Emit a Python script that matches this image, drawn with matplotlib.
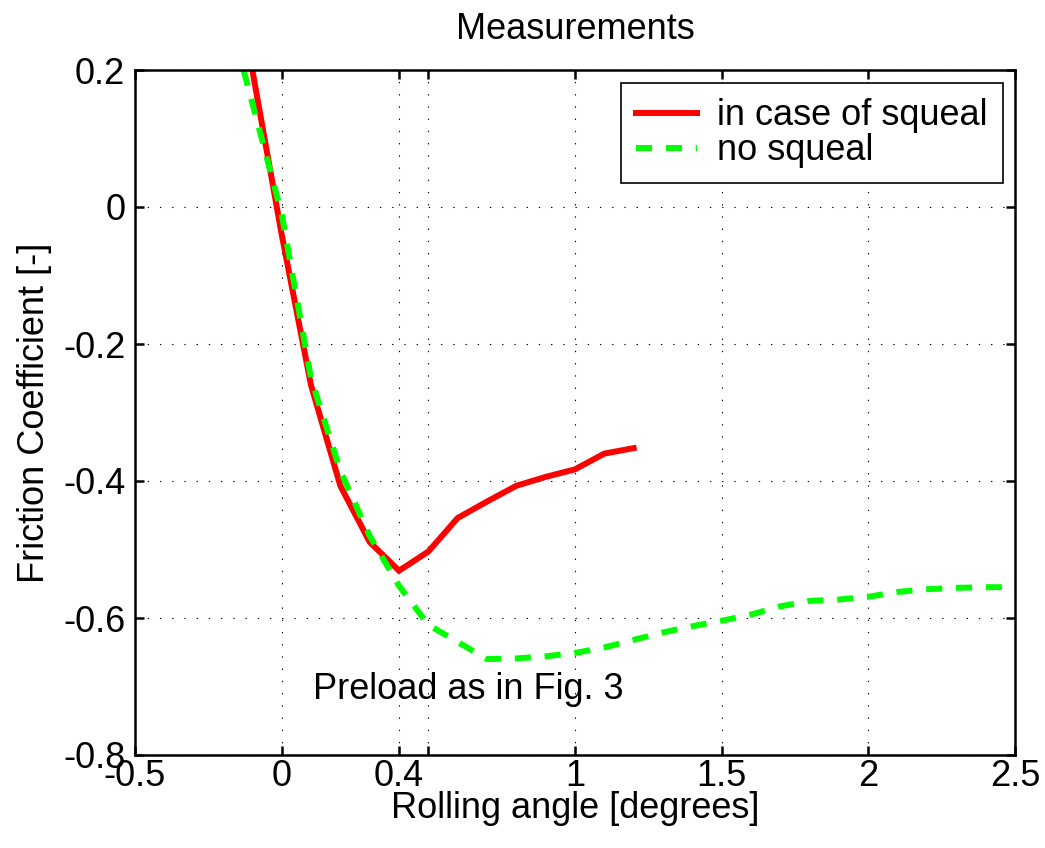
import matplotlib
matplotlib.use("Agg")
import matplotlib.pyplot as plt

plt.rcParams['font.family'] = ['Liberation Sans', 'DejaVu Sans']

# measured friction coefficient vs rolling angle
squeal_x = [-0.1, 0.0, 0.1, 0.2, 0.3, 0.4, 0.5, 0.6, 0.7, 0.8, 0.9, 1.0, 1.1, 1.2]
squeal_y = [0.2, -0.04, -0.26, -0.407, -0.489, -0.531, -0.503, -0.454, -0.430,
            -0.407, -0.394, -0.383, -0.360, -0.352]

nosq_x = [-0.13, 0.0, 0.1, 0.2, 0.3, 0.4, 0.5, 0.6, 0.7, 0.8, 0.9, 1.0, 1.1, 1.2,
          1.3, 1.4, 1.5, 1.6, 1.7, 1.8, 1.9, 2.0, 2.1, 2.2, 2.3, 2.4, 2.5]
nosq_y = [0.2, -0.01, -0.25, -0.385, -0.48, -0.553, -0.61, -0.635, -0.66, -0.659,
          -0.656, -0.651, -0.643, -0.632, -0.621, -0.612, -0.604, -0.595, -0.583,
          -0.575, -0.573, -0.569, -0.562, -0.558, -0.556, -0.555, -0.555]

xticks = [-0.5, 0, 0.4, 0.5, 1, 1.5, 2, 2.5]
xticklabels = ['-0.5', '0', '0.4', '', '1', '1.5', '2', '2.5']
yticks = [-0.8, -0.6, -0.4, -0.2, 0, 0.2]
yticklabels = ['-0.8', '-0.6', '-0.4', '-0.2', '0', '0.2']

fs = 26

fig = plt.figure(figsize=(10.45, 8.48), dpi=100)
ax = fig.add_axes([135 / 1045, 1 - 755 / 848, 880 / 1045, 685 / 848])

ax.plot(squeal_x, squeal_y, color='#ff0000', lw=4.3, label='in case of squeal',
        solid_joinstyle='miter')
ax.plot(nosq_x, nosq_y, color='#00ff00', lw=4.3, linestyle=(0, (2.7, 2.3)),
        dash_capstyle='butt', label='no squeal')

ax.set_xlim(-0.5, 2.5)
ax.set_ylim(-0.8, 0.2)
ax.set_xticks(xticks)
ax.set_xticklabels(xticklabels)
ax.set_yticks(yticks)
ax.set_yticklabels(yticklabels)

ax.grid(True, color='black', lw=0.8, linestyle=(0, (1.2, 9.8)))
ax.tick_params(direction='in', length=6.5, width=1.8, top=True, right=True,
               labelsize=fs, pad=7)
ax.tick_params(axis='x', pad=3)
for s in ax.spines.values():
    s.set_linewidth(1.8)

ax.set_title('Measurements', fontsize=fs, pad=22)
ax.set_xlabel('Rolling angle [degrees]', fontsize=fs, labelpad=-2)
ax.set_ylabel('Friction Coefficient [-]', fontsize=fs, labelpad=8)

ax.text(0.107, -0.705, 'Preload as in Fig. 3', fontsize=fs, va='center', ha='left')

leg = ax.legend(loc='upper right', bbox_to_anchor=(0.986, 0.981), borderaxespad=0,
                fontsize=fs, handlelength=1.7, handletextpad=0.55, borderpad=0.42,
                labelspacing=0.0, fancybox=False, framealpha=1, edgecolor='black')
leg.get_frame().set_linewidth(1.2)

fig.savefig('out.png', dpi=100)
